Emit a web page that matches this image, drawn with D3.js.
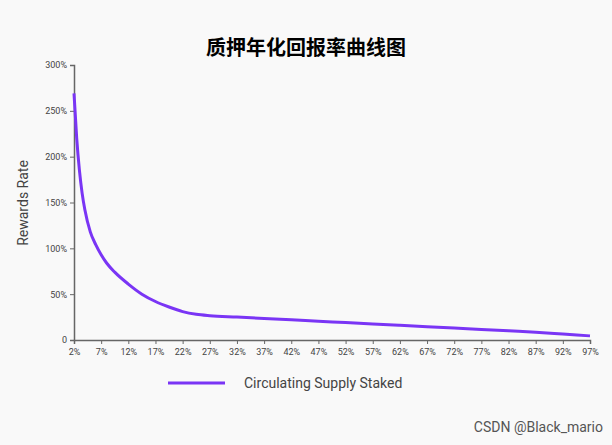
<!DOCTYPE html>
<html><head><meta charset="utf-8">
<script src="https://cdn.jsdelivr.net/npm/d3@7"></script>
<style>body{margin:0;background:#fff;font-family:Roboto,"Noto Sans",sans-serif}</style>
</head><body>
<div id="chart"></div>
<script>
// staked share (%) and reward rate (%)
var staked = [2, 2.5, 3, 3.5, 4, 5, 6, 7, 8, 9.5, 12, 14.5, 17, 19.5, 22, 24.5, 27, 32, 37, 42, 47, 52, 57, 62, 67, 72, 77, 82, 87, 92, 97];
var rates = [269, 220, 185, 160, 142, 118, 104, 93, 84, 74, 61, 50, 42, 36, 31, 28, 26.5, 25, 23.5, 22, 20.5, 19, 17.5, 16, 14.5, 13, 11.5, 10, 8.5, 6.5, 4.5];
var xTicks = d3.range(2, 98, 5);
var yTicks = [0, 50, 100, 150, 200, 250, 300];

var W = 612, H = 445;
var svg = d3.select('#chart').append('svg').attr('width', W).attr('height', H);
svg.append('rect').attr('width', W).attr('height', H).attr('fill', '#f9f9f9');

var x = d3.scaleLinear().domain([2, 97]).range([74, 590]);
var y = d3.scaleLinear().domain([0, 300]).range([340, 65]);

svg.append('text').attr('x', 306).attr('y', 55).attr('text-anchor', 'middle')
   .attr('font-size', 20).attr('font-weight', 'bold').attr('font-family', '"Noto Sans CJK SC"')
   .text('质押年化回报率曲线图');

var ya = svg.append('g').attr('transform', 'translate(74,0)')
   .call(d3.axisLeft(y).tickValues(yTicks).tickSize(4).tickFormat(function(d){ return d ? d + '%' : '0'; }));
var xa = svg.append('g').attr('transform', 'translate(0,340)')
   .call(d3.axisBottom(x).tickValues(xTicks).tickSize(4).tickFormat(function(d){ return d + '%'; }));
[ya, xa].forEach(function(g){
  g.select('.domain').attr('stroke', '#666').attr('stroke-width', 1.5);
  g.selectAll('line').attr('stroke', '#666');
  g.selectAll('text').attr('font-size', 9).attr('fill', '#444').attr('font-family', 'Roboto');
});
xa.selectAll('text').attr('dy', '0.9em');

svg.append('text').attr('transform', 'translate(28,203) rotate(-90)').attr('text-anchor', 'middle')
   .attr('font-size', 14).attr('fill', '#444').text('Rewards Rate');

svg.append('path').datum(staked.map(function(s, i){ return [s, rates[i]]; }))
   .attr('fill', 'none').attr('stroke', '#7a35f5').attr('stroke-width', 3)
   .attr('d', d3.line().x(function(d){ return x(d[0]); }).y(function(d){ return y(d[1]); }).curve(d3.curveMonotoneX));

svg.append('line').attr('x1', 168).attr('x2', 225).attr('y1', 383).attr('y2', 383)
   .attr('stroke', '#7a35f5').attr('stroke-width', 3);
svg.append('text').attr('x', 244).attr('y', 388).attr('font-size', 14).attr('fill', '#444')
   .text('Circulating Supply Staked');

svg.append('text').attr('x', 603).attr('y', 432).attr('text-anchor', 'end')
   .attr('font-size', 14).attr('fill', '#555').text('CSDN @Black_mario');
</script>
</body></html>
